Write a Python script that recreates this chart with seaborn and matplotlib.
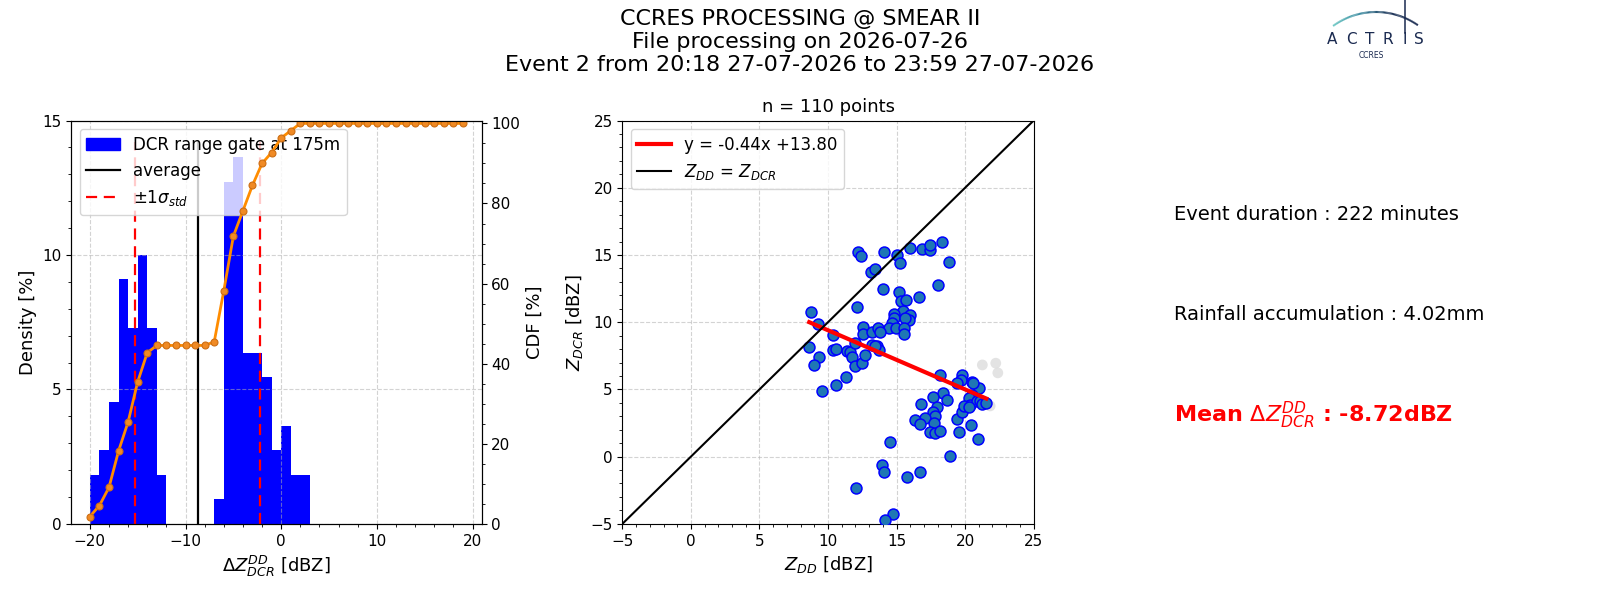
import numpy as np
import pandas as pd
import matplotlib
matplotlib.use("Agg")
import matplotlib.pyplot as plt
import seaborn as sns
from matplotlib.ticker import AutoMinorLocator
from matplotlib.patches import Patch
from matplotlib.lines import Line2D
from matplotlib.collections import LineCollection

# ---------------- data ----------------
bin_left = list(range(-20, 20))
hist_counts = [2, 3, 5, 10, 8, 11, 8, 2,
               0, 0, 0, 0, 0,
               1, 14, 15, 7, 7, 6, 3, 4, 2, 2,
               0, 0, 0, 0, 0, 0, 0, 0, 0, 0, 0, 0, 0, 0, 0, 0, 0]
mean_dz = -8.72
std_dz = 6.53
vline_top = 14.2

zdd = [12.2, 12.4, 14.1, 15.0, 15.25, 15.95, 16.88, 17.41, 17.46, 18.33, 18.82,
       13.16, 13.45, 14.04, 17.99, 15.2, 16.67, 12.14, 15.36, 15.7, 15.46, 14.8,
       14.85, 16.0, 15.9, 15.6, 14.7, 14.46, 14.95, 15.53, 15.53, 12.56, 12.56,
       13.24, 13.63, 13.8, 10.4, 8.77, 9.29, 8.63, 9.36, 8.99, 9.59, 10.35, 10.62,
       10.56, 11.3, 11.38, 11.62, 11.76, 12.0, 11.97, 12.46, 12.73, 13.2, 13.58,
       13.7, 13.45,
       18.19, 19.8, 19.7, 19.38, 20.5, 21.04, 20.5, 20.3, 20.35, 20.9, 21.1, 21.26,
       21.55, 18.42, 18.67, 17.63, 17.98, 16.82, 17.63, 17.78, 17.07, 16.34, 16.7,
       17.75, 17.41, 17.82, 18.14, 19.44, 19.75, 19.58, 20.41, 20.95, 18.92, 14.54,
       13.93, 14.07, 15.8, 16.68, 12.02, 14.76, 14.17, 19.93, 20.27, 20.56]
zdcr = [15.2, 14.95, 15.2, 15.0, 14.4, 15.5, 15.45, 15.35, 15.74, 15.97, 14.46,
        13.76, 13.96, 12.47, 12.75, 12.25, 11.88, 11.13, 11.6, 11.65, 10.84, 10.6,
        10.3, 10.54, 10.14, 10.3, 9.95, 9.57, 9.6, 9.6, 9.13, 9.65, 9.1,
        9.25, 9.55, 9.28, 9.05, 10.74, 9.85, 8.16, 7.42, 6.82, 4.89, 7.96, 7.99,
        5.33, 5.92, 7.83, 7.75, 7.44, 8.45, 6.77, 6.93, 7.56, 8.31, 8.2,
        7.96, 8.25,
        6.08, 6.1, 5.73, 5.45, 5.55, 5.11, 4.55, 4.35, 3.82, 4.1, 4.17, 3.92,
        3.97, 4.72, 4.22, 4.44, 3.72, 3.92, 3.35, 3.05, 2.9, 2.73, 2.43,
        2.49, 1.86, 1.74, 1.91, 2.8, 3.35, 1.86, 2.36, 1.3, 0.06, 1.1,
        -0.66, -1.16, -1.5, -1.11, -2.37, -4.26, -4.73, 3.8, 3.72, 5.5]

excl_zdd = [21.26, 22.24, 22.39, 21.83]
excl_zdcr = [6.82, 6.95, 6.23, 3.77]

fit_slope = -0.44
fit_intercept = 13.80
n_points = 110

suptitle_lines = ["CCRES PROCESSING @ SMEAR II",
                  "File processing on 2026-07-26",
                  "Event 2 from 20:18 27-07-2026 to 23:59 27-07-2026"]
event_duration = "Event duration : 222 minutes"
rain_acc = "Rainfall accumulation : 4.02mm"
mean_text = r"Mean $\Delta Z_{DCR}^{DD}$ : -8.72dBZ"

# ---------------- figure ----------------
plt.rcParams["xtick.labelsize"] = 11
plt.rcParams["ytick.labelsize"] = 11
plt.rcParams["font.family"] = ["DejaVu Sans"]

fig = plt.figure(figsize=(16, 6), dpi=100)
fig.suptitle("\n".join(suptitle_lines), fontsize=16, y=0.985)

# ---- histogram + CDF ----
ax1 = fig.add_axes([0.0445, 0.127, 0.2565, 0.672])
hist_df = pd.DataFrame({"dz": np.array(bin_left) + 0.5, "count": hist_counts})
edges = list(range(-20, 21))
sns.histplot(data=hist_df, x="dz", weights="count", bins=edges, stat="percent",
             color="blue", alpha=1, linewidth=0, ax=ax1)
ax1.vlines(mean_dz, 0, vline_top, color="black", lw=1.6)
ax1.vlines([mean_dz - std_dz, mean_dz + std_dz], 0, vline_top, color="red",
           lw=1.6, linestyles=(0, (5, 3)))
ax1.set_xlim(-21.95, 20.95)
ax1.set_ylim(0, 15)
ax1.set_yticks([0, 5, 10, 15])
ax1.set_xticks([-20, -10, 0, 10, 20])
ax1.xaxis.set_minor_locator(AutoMinorLocator())
ax1.yaxis.set_minor_locator(AutoMinorLocator())
ax1.grid(True, ls="--", color="#b0b0b0", alpha=0.55, lw=0.8)
ax1.set_xlabel(r"$\Delta Z_{DCR}^{DD}$ [dBZ]", fontsize=13)
ax1.set_ylabel("Density [%]", fontsize=13)
handles = [Patch(color="blue", label="DCR range gate at 175m"),
           Line2D([], [], color="black", lw=1.6, label="average"),
           Line2D([], [], color="red", lw=1.6, ls=(0, (5, 3)), label=r"$\pm1\sigma_{std}$")]
ax1.legend(handles=handles, loc="upper left", fontsize=12)

ax2 = ax1.twinx()
cdf = np.cumsum(hist_counts) / np.sum(hist_counts) * 100
sns.lineplot(x=bin_left, y=cdf, ax=ax2, color="darkorange", lw=2, marker="o",
             markersize=5, markerfacecolor="#f08a24", markeredgecolor="#cc6e14",
             markeredgewidth=0.8)
ax2.set_ylim(0, 100.7)
ax2.set_yticks([0, 20, 40, 60, 80, 100])
ax2.yaxis.set_minor_locator(AutoMinorLocator())
ax2.set_ylabel("CDF [%]", fontsize=13)
ax2.set_xlim(-21.95, 20.95)

# ---- scatter ----
ax3 = fig.add_axes([0.389, 0.127, 0.257, 0.672])
sns.scatterplot(x=excl_zdd, y=excl_zdcr, ax=ax3, s=60, color="#dcdcdc",
                edgecolor="none", alpha=0.8, zorder=2)
sns.scatterplot(x=zdd, y=zdcr, ax=ax3, s=62, color="#1f77b4",
                edgecolor="blue", linewidth=1.1, zorder=3)
xfit = np.array([min(zdd), max(zdd)])
ax3.plot(xfit, fit_slope * xfit + fit_intercept, color="red", lw=3, zorder=4,
         label="y = %.2fx +%.2f" % (fit_slope, fit_intercept))
ax3.axline((0, 0), slope=1, color="black", lw=1.5, zorder=4,
           label=r"$Z_{DD}$ = $Z_{DCR}$")
ax3.set_xlim(-5, 25)
ax3.set_ylim(-5, 25)
ax3.set_xticks(range(-5, 26, 5))
ax3.set_yticks(range(-5, 26, 5))
ax3.xaxis.set_minor_locator(AutoMinorLocator())
ax3.yaxis.set_minor_locator(AutoMinorLocator())
ax3.grid(True, ls="--", color="#b0b0b0", alpha=0.55, lw=0.8)
ax3.set_axisbelow(True)
ax3.set_xlabel(r"$Z_{DD}$ [dBZ]", fontsize=13)
ax3.set_ylabel(r"$Z_{DCR}$ [dBZ]", fontsize=13)
ax3.set_title("n = %d points" % n_points, fontsize=13)
ax3.legend(loc="upper left", fontsize=12)

# ---- text panel ----
ax4 = fig.add_axes([0.734, 0.127, 0.257, 0.672])
ax4.axis("off")
ax4.text(0, 0.768, event_duration, fontsize=14, va="center", transform=ax4.transAxes)
ax4.text(0, 0.518, rain_acc, fontsize=14, va="center", transform=ax4.transAxes)
ax4.text(0, 0.27, mean_text, fontsize=16, va="center", color="red",
         fontweight="bold", transform=ax4.transAxes)

# ---- logo ----
axl = fig.add_axes([1320 / 1600, 1 - 66 / 600, 110 / 1600, 66 / 600])
axl.set_xlim(1320, 1430)
axl.set_ylim(66, 0)
axl.axis("off")
t = np.linspace(np.radians(234), np.radians(305), 80)
cx, cy, r = 1376, 85, 73
arc_x = cx + r * np.cos(t)
arc_y = cy + r * np.sin(t)
pts = np.array([arc_x, arc_y]).T.reshape(-1, 1, 2)
segs = np.concatenate([pts[:-1], pts[1:]], axis=1)
cmap = matplotlib.colors.LinearSegmentedColormap.from_list(
    "actris", ["#6cc8c4", "#3a8aa0", "#1c3358", "#1a2a50"])
lc = LineCollection(segs, cmap=cmap, lw=1.5)
lc.set_array(np.linspace(0, 1, len(segs)))
axl.add_collection(lc)
axl.plot([1405, 1405], [0, 33], color="#1a2a50", lw=1.1)
for ch, xp in zip("ACTRIS", [1332, 1351, 1370, 1388, 1405, 1419]):
    axl.text(xp, 40, ch, fontsize=11, ha="center", va="center", color="#1a2a50")
axl.text(1371, 56, "CCRES", fontsize=5.5, ha="center", va="center", color="#1a2a50")

fig.savefig("out.png", dpi=100)
